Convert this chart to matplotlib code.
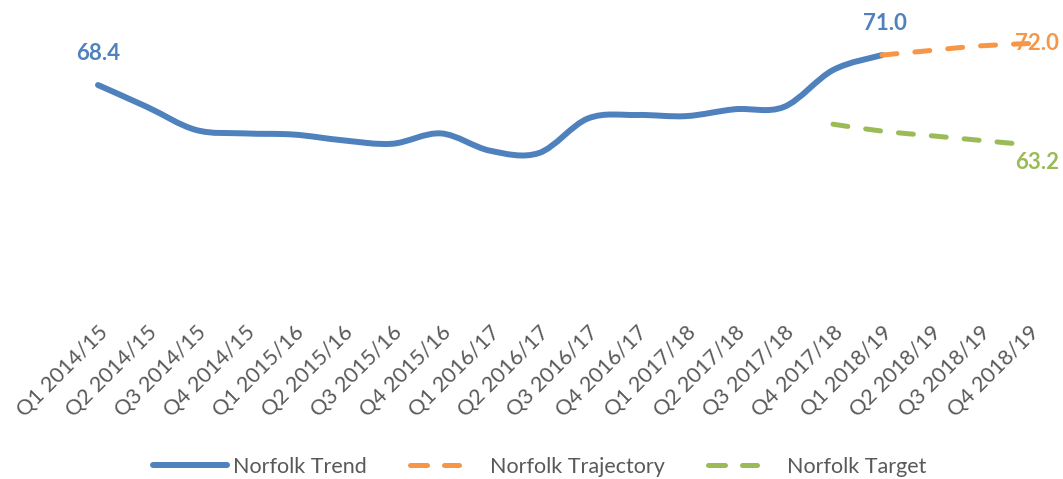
import numpy as np
import matplotlib
matplotlib.use("Agg")
import matplotlib.pyplot as plt
import matplotlib.transforms as mtransforms
from matplotlib.path import Path
from matplotlib.patches import PathPatch
from matplotlib.lines import Line2D

plt.rcParams['font.family'] = ['Lato', 'DejaVu Sans']

quarters = ['Q1 2014/15', 'Q2 2014/15', 'Q3 2014/15', 'Q4 2014/15',
            'Q1 2015/16', 'Q2 2015/16', 'Q3 2015/16', 'Q4 2015/16',
            'Q1 2016/17', 'Q2 2016/17', 'Q3 2016/17', 'Q4 2016/17',
            'Q1 2017/18', 'Q2 2017/18', 'Q3 2017/18', 'Q4 2017/18',
            'Q1 2018/19', 'Q2 2018/19', 'Q3 2018/19', 'Q4 2018/19']

trend = [68.4, 66.5, 64.5, 64.2, 64.1, 63.6, 63.3, 64.2, 62.7, 62.5,
         65.5, 65.8, 65.7, 66.3, 66.5, 69.7, 71.0]
trajectory_start = 16
trajectory = [71.0, 71.4, 71.8, 72.0]
target_start = 15
target = [65.0, 64.4, 64.0, 63.6, 63.2]

BLUE = '#4F81BD'
ORANGE = '#F79646'
GREEN = '#9BBB59'
GREY = '#595959'


def smooth_path(xs, ys):
    # Excel-style smoothed line: cubic bezier through every point
    pts = np.column_stack([xs, ys]).astype(float)
    n = len(pts)
    verts = [pts[0]]
    codes = [Path.MOVETO]
    for i in range(n - 1):
        p0 = pts[i - 1] if i > 0 else pts[i]
        p1 = pts[i]
        p2 = pts[i + 1]
        p3 = pts[i + 2] if i + 2 < n else pts[i + 1]
        c1 = p1 + (p2 - p0) / 6.0
        c2 = p2 - (p3 - p1) / 6.0
        verts += [c1, c2, p2]
        codes += [Path.CURVE4] * 3
    return Path(verts, codes)


fig = plt.figure(figsize=(10.63, 4.79), dpi=100)
ax = fig.add_axes([73.5 / 1063, 1 - 297 / 479, 980 / 1063, 288 / 479])

x_trend = np.arange(len(trend))
x_traj = np.arange(trajectory_start, trajectory_start + len(trajectory))
x_targ = np.arange(target_start, target_start + len(target))

ax.add_patch(PathPatch(smooth_path(x_trend, trend), fill=False, edgecolor=BLUE,
                       lw=4.3, capstyle='round', joinstyle='round', zorder=3))
ax.add_patch(PathPatch(smooth_path(x_traj, trajectory), fill=False, edgecolor=ORANGE,
                       lw=3.6, capstyle='round', linestyle=(0, (3, 3.6)), zorder=4))
ax.add_patch(PathPatch(smooth_path(x_targ, target), fill=False, edgecolor=GREEN,
                       lw=3.6, capstyle='round', linestyle=(0, (3, 3.6)), zorder=4))

ax.set_xlim(-0.5, len(quarters) - 0.5)
ax.set_ylim(50, 75)

ax.set_xticks(range(len(quarters)))
ax.set_xticklabels(quarters, fontsize=15.5, color=GREY)
shift = mtransforms.ScaledTranslation(-4 / 100, 0, fig.dpi_scale_trans)
for t in ax.get_xticklabels():
    t.set_rotation(45)
    t.set_ha('right')
    t.set_va('top')
    t.set_rotation_mode('anchor')
    t.set_transform(t.get_transform() + shift)
ax.tick_params(axis='x', length=0, pad=18)
ax.set_yticks([])
for s in ax.spines.values():
    s.set_visible(False)

# data labels
lab = dict(fontsize=16, fontweight='bold', textcoords='offset pixels', va='center')
ax.annotate(f'{trend[0]:.1f}', (0, trend[0]), xytext=(0, 32), ha='center', color=BLUE, **lab)
ax.annotate(f'{trend[-1]:.1f}', (len(trend) - 1, trend[-1]), xytext=(3, 32), ha='center',
            color=BLUE, **lab)
ax.annotate(f'{trajectory[-1]:.1f}', (x_traj[-1], trajectory[-1]), xytext=(8, 0), ha='center',
            color=ORANGE, zorder=2, **lab)
ax.annotate(f'{target[-1]:.1f}', (x_targ[-1], target[-1]), xytext=(8, -18), ha='center',
            color=GREEN, **lab)

leg_dash = (0, (3.4, 3.4, 3.0, 30))
handles = [
    Line2D([], [], color=BLUE, lw=4.3, solid_capstyle='round'),
    Line2D([], [], color=ORANGE, lw=3.6, dash_capstyle='round', linestyle=leg_dash),
    Line2D([], [], color=GREEN, lw=3.6, dash_capstyle='round', linestyle=leg_dash),
]
fig.legend(handles, ['Norfolk Trend', 'Norfolk Trajectory', 'Norfolk Target'],
           loc='center', bbox_to_anchor=(540 / 1063, 1 - 467 / 479), ncol=3,
           frameon=False, fontsize=15.5, labelcolor=GREY, handlelength=3.4,
           handletextpad=0.3, columnspacing=2.0)

fig.savefig('out.png', dpi=100)
